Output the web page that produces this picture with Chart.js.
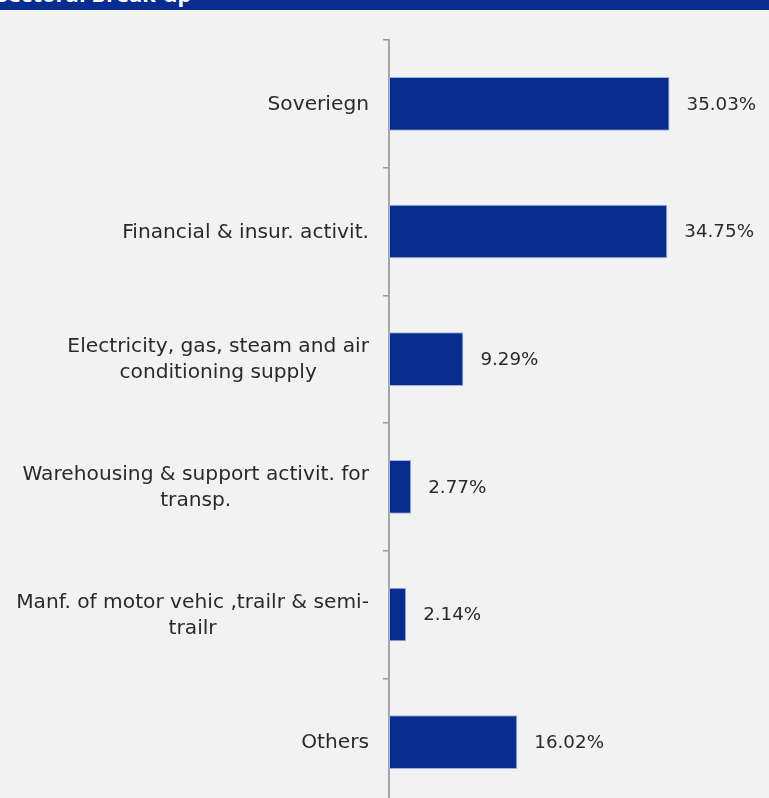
<!DOCTYPE html>
<html>
<head>
<meta charset="utf-8">
<script src="https://cdn.jsdelivr.net/npm/chart.js@4/dist/chart.umd.min.js"></script>
<style>
  html, body { margin: 0; padding: 0; background: #f2f2f2; overflow: hidden; }
  #page { position: relative; width: 769px; height: 798px; overflow: hidden; }
  #bandeau {
    position: absolute; left: 0; top: 0; width: 769px; height: 10px;
    background: #062d8f; overflow: hidden;
  }
  #bandeau span {
    position: absolute; left: -4px; top: -22px; line-height: 30px;
    font: bold 22px "Open Sans", sans-serif; color: #ffffff; white-space: nowrap;
  }
  #graphe { position: absolute; left: 0; top: 0; }
</style>
</head>
<body>
<div id="page">
  <canvas id="graphe" width="769" height="840"></canvas>
  <div id="bandeau"><span>Sectoral Break-up</span></div>
</div>
<script>
// secteurs et parts du portefeuille (%)
const secteurs = [
  ['Soveriegn'],
  ['Financial & insur. activit.'],
  ['Electricity, gas, steam and air', 'conditioning supply'],
  ['Warehousing & support activit. for', 'transp.'],
  ['Manf. of motor vehic ,trailr & semi-', 'trailr'],
  ['Others']
];
const parts = [35.03, 34.75, 9.29, 2.77, 2.14, 16.02];
const etiquettes = ['35.03%', '34.75%', '9.29%', '2.77%', '2.14%', '16.02%'];

const policeSecteurs = '20.2px "DejaVu Sans", sans-serif';
const policeValeurs = '18.3px "DejaVu Sans", sans-serif';
const couleurTexte = '#2a2a2a';

// libellés des secteurs : bloc aligné à droite, lignes centrées entre elles
const libellesSecteurs = {
  id: 'libellesSecteurs',
  afterDraw(chart) {
    const ctx = chart.ctx;
    const y = chart.scales.y;
    ctx.save();
    ctx.font = policeSecteurs;
    ctx.fillStyle = couleurTexte;
    ctx.textAlign = 'center';
    ctx.textBaseline = 'middle';
    const droite = y.right - 20;
    const interligne = 26;
    secteurs.forEach((lignes, i) => {
      const largeur = Math.max(...lignes.map(l => ctx.measureText(l).width));
      const cx = droite - largeur / 2;
      const cy = y.getPixelForTick(i) + 1;
      const debut = cy - (lignes.length - 1) * interligne / 2;
      lignes.forEach((l, k) => ctx.fillText(l, cx, debut + k * interligne));
    });
    ctx.restore();
  }
};

// valeurs à droite des barres
const libellesValeurs = {
  id: 'libellesValeurs',
  afterDatasetsDraw(chart) {
    const ctx = chart.ctx;
    const meta = chart.getDatasetMeta(0);
    ctx.save();
    ctx.font = policeValeurs;
    ctx.fillStyle = couleurTexte;
    ctx.textAlign = 'left';
    ctx.textBaseline = 'middle';
    meta.data.forEach((barre, i) => {
      ctx.fillText(etiquettes[i], barre.x + 17, barre.y + 1);
    });
    ctx.restore();
  }
};

new Chart(document.getElementById('graphe'), {
  type: 'bar',
  data: {
    labels: secteurs.map(s => s.join(' ')),
    datasets: [{
      data: parts,
      backgroundColor: '#062d8f',
      borderColor: '#a3afd8',
      borderWidth: 1,
      borderSkipped: false,
      categoryPercentage: 1,
      barPercentage: 0.42
    }]
  },
  options: {
    indexAxis: 'y',
    responsive: false,
    animation: false,
    layout: { padding: { top: 40, bottom: 34, left: 0, right: 0 } },
    plugins: { legend: { display: false }, tooltip: { enabled: false } },
    scales: {
      x: { display: false, min: 0, max: 47.45 },
      y: {
        ticks: { display: false },
        grid: { drawOnChartArea: false, drawTicks: true, tickLength: 6, color: '#999999', lineWidth: 1.5, offset: true },
        border: { display: true, color: '#a6a6a6', width: 2 },
        afterFit(scale) { scale.width = 389; }
      }
    }
  },
  plugins: [libellesSecteurs, libellesValeurs]
});
</script>
</body>
</html>
